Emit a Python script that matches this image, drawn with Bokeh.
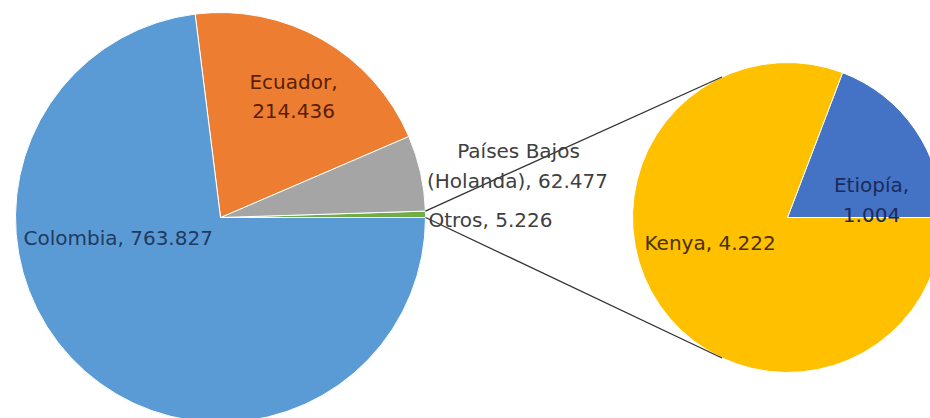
import math
from bokeh.plotting import figure
from bokeh.models import Range1d, ColumnDataSource
from bokeh.core.properties import value
from bokeh.embed import file_html
from bokeh.resources import INLINE

# ---- data ----
main_labels = ["Colombia", "Ecuador", "Países Bajos (Holanda)", "Otros"]
main_values = [763.827, 214.436, 62.477, 5.226]
main_colors = ["#5B9BD5", "#ED7D31", "#A5A5A5", "#70AD47"]

sec_labels = ["Kenya", "Etiopía"]
sec_values = [4.222, 1.004]
sec_colors = ["#FFC000", "#4472C4"]

# ---- layout (page coordinates -> data with y up) ----
W, H = 930, 418
def py(y):  # page y -> data y
    return H - y

p = figure(width=W, height=H, output_backend="svg", toolbar_location=None,
           x_range=Range1d(0, W), y_range=Range1d(0, H),
           x_axis_location=None, y_axis_location=None, min_border=0,
           outline_line_color=None, background_fill_color="white")
p.grid.visible = False

FONT = value("DejaVu Sans")
FS = "20px"

# main pie: "Otros" starts at 0 rad going counter-clockwise, then Países Bajos, Ecuador, Colombia
mcx, mcy, mr = 220, py(217), 205
order = [3, 2, 1, 0]
tot = sum(main_values)
starts, ends, cols = [], [], []
acc = 0.0
ang = {}
for i in order:
    a0 = acc
    acc += main_values[i] / tot * 2 * math.pi
    starts.append(a0); ends.append(acc); cols.append(main_colors[i])
    ang[i] = (a0, acc)
p.wedge(x=mcx, y=mcy, radius=mr, start_angle=starts, end_angle=ends,
        fill_color=cols, line_color="white", line_width=1)

# secondary pie: Etiopía from 0 counter-clockwise, then Kenya
scx, scy, sr = 787, py(217), 155
stot = sum(sec_values)
s_starts, s_ends, s_cols = [], [], []
acc = 0.0
for i in [1, 0]:
    a0 = acc
    acc += sec_values[i] / stot * 2 * math.pi
    s_starts.append(a0); s_ends.append(acc); s_cols.append(sec_colors[i])
p.wedge(x=scx, y=scy, radius=sr, start_angle=s_starts, end_angle=s_ends,
        fill_color=s_cols, line_color="white", line_width=1)

# connector lines from the "Otros" slice to the secondary pie
o0, o1 = ang[3]
top_a = math.radians(115)
bot_a = math.radians(245)
xs = [[mcx + mr * math.cos(o1), scx + sr * math.cos(top_a)],
      [mcx + mr * math.cos(o0), scx + sr * math.cos(bot_a)]]
ys = [[mcy + mr * math.sin(o1), scy + sr * math.sin(top_a)],
      [mcy + mr * math.sin(o0), scy + sr * math.sin(bot_a)]]
p.multi_line(xs=xs, ys=ys, line_color="#333333", line_width=1.3)

def fmt(v):
    return f"{v:.3f}"

# labels
lab = dict(x=[], y=[], text=[], color=[], align=[])
def add(x, y, t, c, a="center"):
    lab["x"].append(x); lab["y"].append(py(y)); lab["text"].append(t)
    lab["color"].append(c); lab["align"].append(a)

add(23, 237, f"{main_labels[0]}, {fmt(main_values[0])}", "#1F3A60", "left")
add(293, 81, f"{main_labels[1]},", "#5A1E05")
add(293, 110, fmt(main_values[1]), "#5A1E05")
pb_words = main_labels[2].split(" ")
add(518, 150, " ".join(pb_words[:2]), "#404040")
add(517, 180, f"{pb_words[2]}, {fmt(main_values[2])}", "#404040")
add(428, 219, f"{main_labels[3]}, {fmt(main_values[3])}", "#404040", "left")
add(871, 184, f"{sec_labels[1]},", "#1A2B5C")
add(871, 214, fmt(sec_values[1]), "#1A2B5C")
add(644, 242, f"{sec_labels[0]}, {fmt(sec_values[0])}", "#4A3000", "left")

src = ColumnDataSource(lab)
p.text(x="x", y="y", text="text", text_color="color", text_align="align",
       text_baseline="middle", text_font=FONT, text_font_size=FS, source=src)

open("out.html", "w").write(file_html(p, INLINE))
